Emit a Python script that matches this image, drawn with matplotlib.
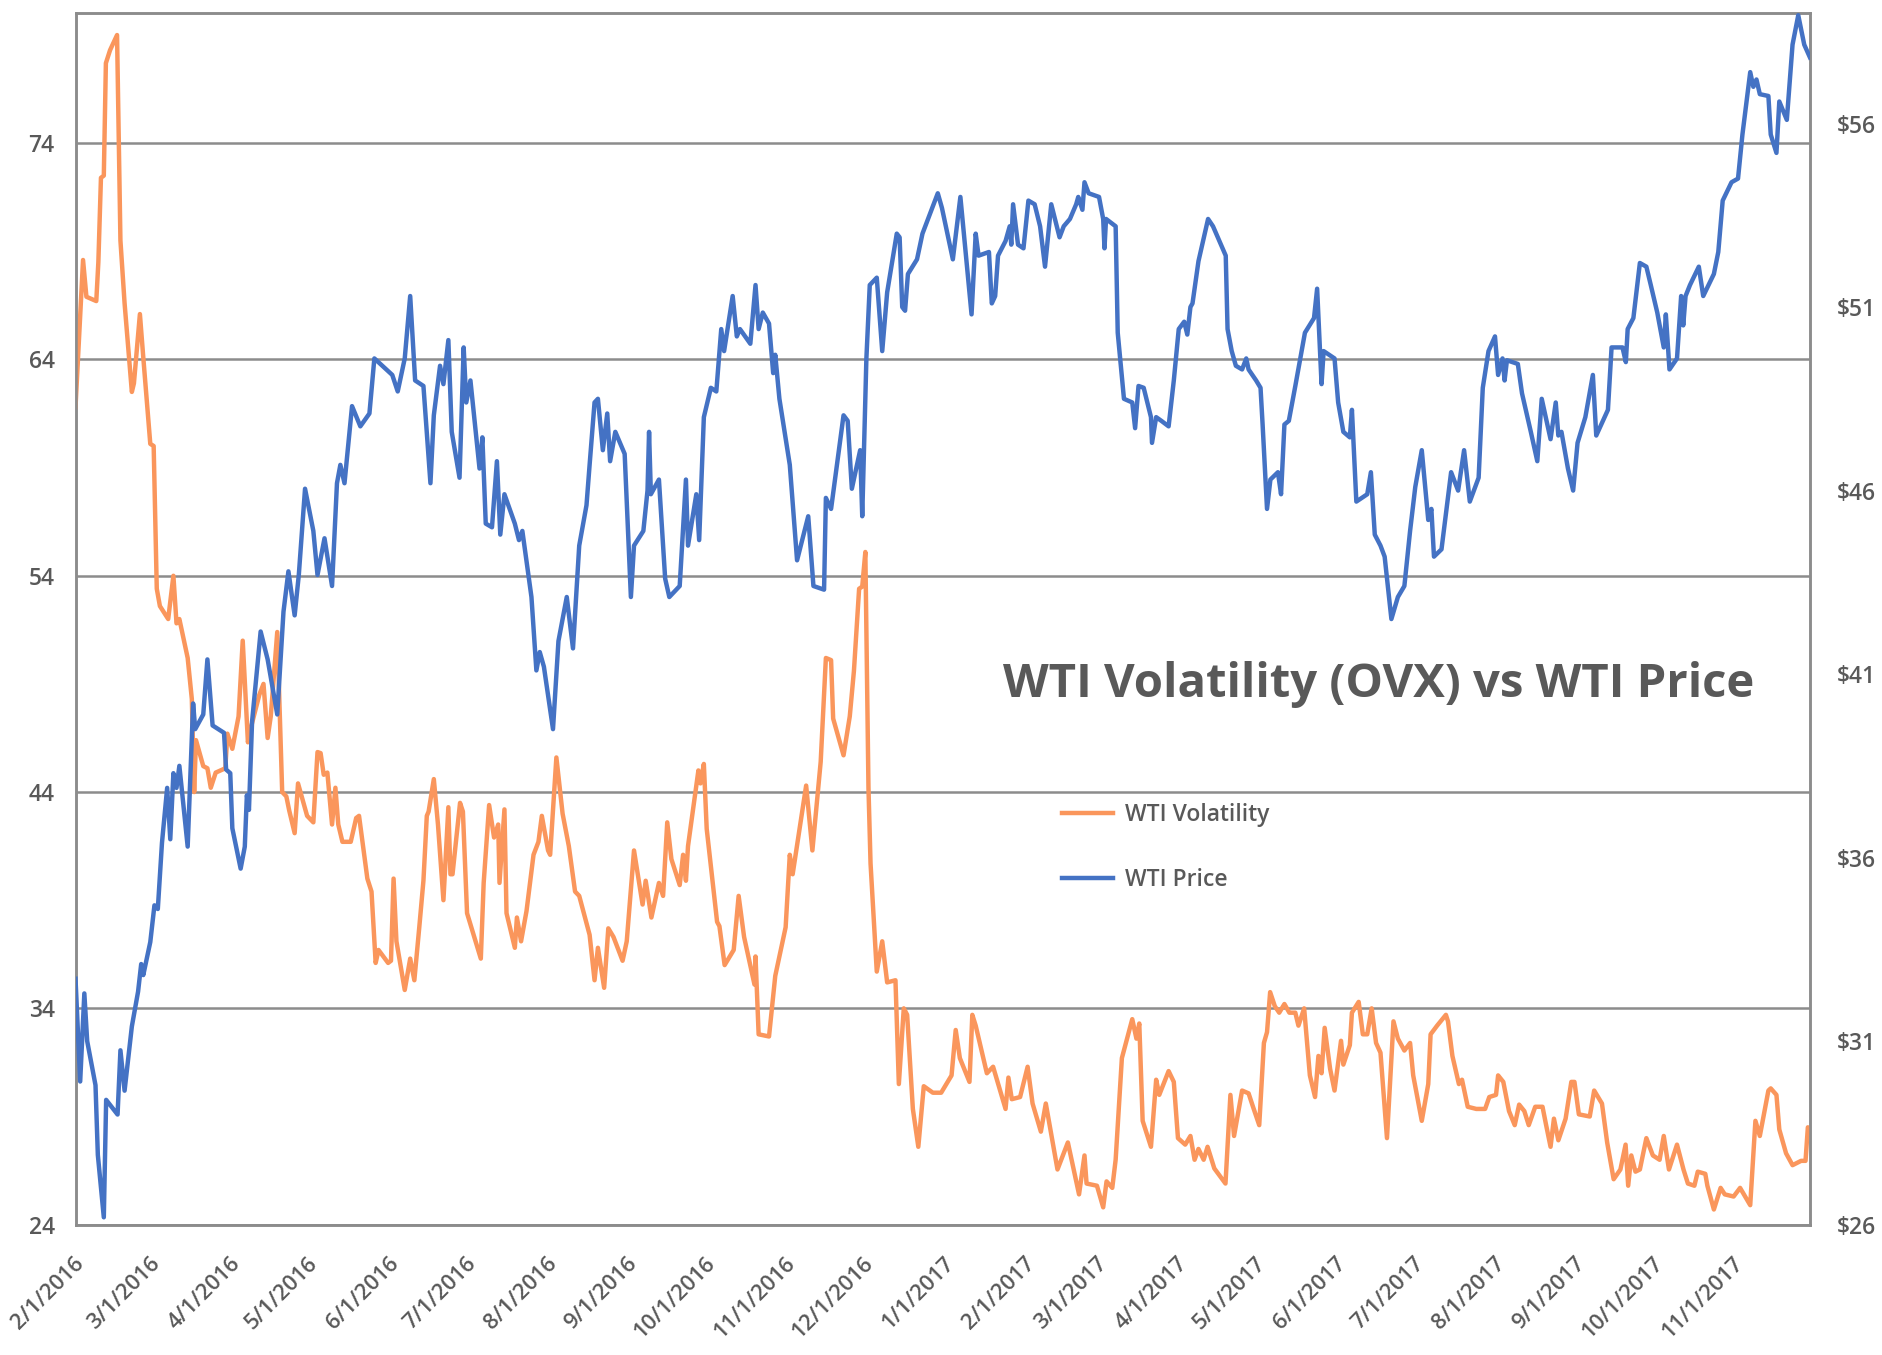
import numpy as np
import pandas as pd
import matplotlib
matplotlib.use("Agg")
import matplotlib.pyplot as plt
import matplotlib.dates as mdates
import matplotlib.transforms as mtransforms
from matplotlib.ticker import FuncFormatter

plt.rcParams["font.family"] = ["Open Sans", "DejaVu Sans"]

START = pd.Timestamp("2016-02-01")
END_DAY = 668

# OVX (WTI volatility), days since 2/1/2016 and index level
ovx_days = [0, 2.9, 4.2, 8.0, 8.8, 9.8, 10.9, 11.7, 13.3, 16.0, 17.3, 18.9, 21.7, 22.5, 24.8, 26.1,
            28.8, 30.1, 31.3, 32.5, 35.7, 37.7, 38.9, 40.0, 43.2, 44.8, 45.7, 46.4, 49.2, 50.8, 52.1,
            54.0, 57.7, 58.5, 60.4, 62.8, 64.4, 66.4, 67.6, 70.8, 72.4, 74.0, 75.2, 77.7, 79.6, 81.2,
            82.3, 84.4, 85.7, 89.2, 91.6, 93.2, 94.4, 95.6, 97.0, 98.8, 100.1, 101.2, 102.8, 106.0,
            108.1, 109.2, 112.4, 114.0, 115.6, 116.7, 120.4, 121.5, 122.5, 123.6, 126.8, 128.9, 130.5,
            132.4, 134.0, 135.3, 136.0, 138.0, 139.6, 141.7, 143.6, 144.4, 145.2, 148.1, 149.2, 150.8,
            156.1, 157.2, 159.3, 161.2, 162.8, 163.3, 165.2, 166.0, 169.2, 170.0, 171.6, 173.7, 176.4,
            178.3, 179.6, 182.0, 182.8, 185.2, 187.6, 190.0, 192.4, 194.0, 198.0, 199.9, 201.2, 203.6,
            205.2, 207.2, 210.7, 212.3, 215.1, 218.4, 219.6, 221.8, 224.7, 226.3, 227.9, 229.5, 232.7,
            234.0, 235.1, 235.9, 239.9, 240.7, 242.0, 243.1, 247.1, 248.0, 250.0, 253.5, 255.4, 257.5,
            261.5, 261.9, 263.1, 267.1, 269.5, 273.5, 275.1, 276.2, 281.4, 283.8, 287.0, 289.0, 291.0,
            291.8, 295.8, 298.2, 299.8, 301.8, 303.0, 304.2, 305.4, 306.2, 308.6, 310.7, 312.6, 315.8,
            317.1, 319.0, 320.3, 322.5, 324.6, 326.7, 330.2, 333.4, 337.4, 339.0, 340.6, 344.3, 345.4,
            346.7, 351.0, 353.4, 358.2, 359.3, 360.6, 363.8, 366.7, 368.6, 371.8, 373.7, 378.2, 382.2,
            386.5, 388.6, 389.4, 393.4, 395.8, 397.1, 399.3, 400.6, 403.0, 407.0, 408.6, 409.7, 411.0,
            414.2, 416.2, 417.4, 421.0, 423.0, 424.6, 427.4, 429.4, 431.0, 432.5, 434.5, 436.0, 438.6,
            442.9, 444.8, 446.2, 449.3, 451.8, 453.5, 455.9, 457.7, 458.9, 460.1, 461.9, 463.6, 465.6,
            467.5, 469.8, 471.0, 473.2, 475.4, 477.4, 478.7, 479.9, 481.1, 483.2, 484.9, 487.4, 488.3,
            490.8, 491.6, 494.2, 495.8, 497.5, 499.2, 500.9, 502.6, 505.1, 507.6, 509.3, 511.8, 514.0,
            515.2, 518.5, 521.0, 521.9, 524.4, 527.8, 528.6, 530.3, 532.8, 534.0, 536.2, 539.5, 542.9,
            544.5, 547.1, 547.9, 549.9, 552.1, 554.3, 556.0, 558.0, 559.7, 562.2, 565.0, 566.4, 568.1,
            569.4, 571.1, 573.9, 576.1, 577.3, 579.0, 583.2, 584.9, 587.9, 589.9, 592.4, 595.0, 597.0,
            598.0, 599.2, 600.8, 602.5, 605.0, 607.5, 610.1, 611.7, 613.7, 616.8, 619.3, 621.0, 623.5,
            624.8, 627.7, 628.5, 631.0, 633.6, 635.2, 638.6, 641.1, 645.0, 647.0, 648.7, 652.0, 652.9,
            655.1, 656.2, 658.8, 661.3, 664.6, 666.3, 667.2, 668.0]
ovx_vals = [61.8, 68.6, 66.9, 66.7, 68.5, 72.4, 72.5, 77.7, 78.3, 79.0, 69.5, 66.6, 62.5, 62.9, 66.1, 64.1,
            60.1, 60.0, 53.4, 52.6, 52.0, 54.0, 51.8, 52.0, 50.2, 48.3, 44.0, 46.4, 45.2, 45.1, 44.2,
            44.9, 45.1, 46.7, 46.0, 47.5, 51.0, 46.3, 47.0, 48.5, 49.0, 46.5, 47.5, 51.4, 44.0, 43.8,
            43.15, 42.1, 44.4, 42.9, 42.6, 45.85, 45.8, 44.8, 44.9, 42.5, 44.2, 42.5, 41.7, 41.7,
            42.8, 42.9, 40.0, 39.4, 36.1, 36.7, 36.1, 36.2, 40.0, 37.1, 34.85, 36.3, 35.3,
            37.75, 39.9, 42.9, 43.1, 44.6, 42.5, 39.0, 43.3, 40.2, 40.2, 43.5, 43.1, 38.4,
            36.3, 39.8, 43.4, 41.9, 42.5, 39.8, 43.2, 38.4, 36.8, 38.2, 37.1, 38.5, 41.1,
            41.7, 42.9, 41.3, 41.1, 45.6, 43.0, 41.5, 39.4, 39.2, 37.4, 35.3, 36.8, 34.95,
            37.7, 37.3, 36.2, 37.1, 41.3, 38.8, 39.9, 38.2, 39.8, 39.2, 42.6, 40.9, 39.7,
            41.1, 39.9, 41.5, 45.0, 44.4, 45.3, 42.3, 38.0, 37.8, 36.0, 36.7, 39.2, 37.3,
            35.1, 36.4, 32.8, 32.7, 35.5, 37.75, 41.1, 40.2, 44.3, 41.3, 45.4, 50.2, 50.1,
            47.4, 45.7, 47.5, 49.6, 53.4, 53.5, 55.1, 44.2, 40.7, 35.7, 37.1, 35.2, 35.3,
            30.5, 34.0, 33.7, 29.35, 27.6, 30.4, 30.1, 30.1, 30.9, 33.0, 31.7, 30.6, 33.7,
            33.2, 31.0, 31.3, 29.35, 30.8, 29.8, 29.9, 31.3, 29.6, 28.3, 29.6, 26.55, 27.8,
            25.4, 27.2, 25.9, 25.8, 24.8, 26.0, 25.7, 27.0, 31.7, 33.5, 32.6, 33.3, 28.8,
            27.6, 30.7, 30.0, 31.1, 30.6, 28.0, 27.7, 28.1, 27.0, 27.5, 27.0, 27.6, 26.6,
            25.9, 30.0, 28.1, 30.2, 30.07, 29.45, 28.6, 32.4, 32.9, 34.75, 34.1, 33.8, 34.2,
            33.8, 33.8, 33.2, 34.0, 30.9, 29.9, 31.8, 31.0, 33.1, 31.2, 30.2, 32.5, 31.4,
            32.3, 33.8, 34.3, 32.8, 32.8, 34.0, 32.4, 31.95, 28.0, 33.4, 32.6, 32.05, 32.4,
            30.9, 28.8, 30.5, 32.8, 33.2, 33.7, 33.4, 31.8, 30.5, 30.7, 29.45, 29.35, 29.35,
            29.9, 30.0, 30.9, 30.6, 29.25, 28.6, 29.55, 29.25, 28.6, 29.45, 29.45, 28.6, 27.6,
            28.9, 27.9, 28.9, 30.6, 30.6, 29.1, 29.0, 30.2, 29.6, 27.8, 26.1, 26.55, 27.7,
            25.8, 27.2, 26.45, 26.55, 28.0, 27.2, 27.0, 28.1, 26.55, 27.7, 26.55, 25.9, 25.8,
            26.45, 26.35, 25.8, 24.7, 25.7, 25.4, 25.3, 25.7, 24.9, 28.8, 28.1, 30.2, 30.3,
            30.0, 28.4, 27.3, 26.75, 26.95, 26.95, 28.5, 28.3]

# WTI price ($/bbl), days since 2/1/2016
wti_days = [0, 1.8, 3.4, 4.5, 7.7, 8.6, 10.9, 11.8, 16.2, 17.3, 18.9, 21.7, 24.1, 25.3, 26.1, 28.8,
            30.4, 31.7, 33.3, 35.3, 36.5, 37.7, 38.9, 40.0, 43.2, 45.3, 46.1, 49.2, 50.8, 52.8, 57.2,
            58.0, 59.6, 60.4, 63.6, 65.2, 66.0, 66.8, 68.0, 71.3, 74.0, 77.7, 80.1, 82.0, 84.4, 86.0,
            88.4, 91.6, 93.2, 95.9, 98.8, 100.7, 102.0, 103.6, 106.5, 109.7, 113.2, 115.1, 122.0,
            124.1, 126.8, 128.9, 130.8, 134.0, 136.7, 138.0, 140.4, 141.7, 143.6, 144.9, 147.9, 149.5,
            150.5, 152.1, 155.6, 156.7, 158.0, 160.4, 162.3, 163.6, 165.2, 169.2, 170.8, 172.1, 175.6,
            177.5, 178.8, 180.4, 183.9, 186.0, 189.2, 191.6, 194.0, 196.8, 198.0, 199.9, 201.2, 203.1,
            204.8, 205.9, 207.9, 211.5, 213.9, 215.1, 218.7, 220.3, 220.9, 221.6, 224.7, 227.1, 228.7,
            232.7, 235.1, 235.9, 239.1, 240.2, 242.0, 244.7, 246.8, 248.7, 249.8, 253.1, 254.7, 255.9,
            259.9, 261.9, 263.1, 264.7, 267.1, 268.7, 269.5, 271.1, 275.1, 277.9, 282.2, 284.2, 288.3,
            289.0, 291.0, 295.8, 297.4, 299.0, 302.2, 303.0, 304.6, 305.9, 308.6, 310.7, 312.6, 316.3,
            317.4, 318.4, 319.5, 320.6, 324.1, 326.2, 332.1, 333.7, 337.9, 340.8, 345.1, 346.7, 347.8,
            351.8, 352.9, 354.2, 355.3, 358.2, 359.8, 360.4, 361.1, 363.0, 365.1, 367.0, 369.4, 371.5,
            373.4, 375.8, 379.0, 380.6, 383.0, 385.4, 386.2, 387.8, 388.6, 390.2, 394.2, 395.8, 396.3,
            396.9, 400.6, 401.4, 403.8, 407.0, 408.1, 409.4, 411.4, 414.2, 414.6, 416.2, 418.2, 421.0,
            423.0, 424.9, 427.0, 428.2, 429.4, 430.2, 432.5, 436.2, 438.1, 443.0, 443.7, 445.3, 446.9,
            449.3, 450.9, 451.8, 454.7, 456.4, 457.2, 458.9, 460.2, 463.1, 464.3, 465.6, 467.3, 469.8,
            473.5, 477.0, 478.2, 479.9, 480.7, 484.9, 486.3, 488.3, 490.8, 491.6, 493.3, 497.5, 498.9,
            500.4, 502.6, 504.2, 506.8, 509.3, 511.8, 514.0, 516.0, 518.5, 521.0, 522.2, 523.2, 526.1,
            529.8, 532.5, 534.8, 537.0, 540.4, 542.0, 544.2, 546.7, 547.9, 549.6, 550.4, 551.3, 555.5,
            557.1, 560.5, 563.0, 564.7, 568.1, 570.1, 571.1, 572.3, 574.8, 576.8, 578.5, 581.5, 584.4,
            585.7, 590.2, 591.6, 595.8, 597.1, 597.8, 600.0, 602.5, 605.0, 606.7, 609.2, 611.7, 612.5,
            613.9, 616.8, 618.4, 619.2, 620.1, 621.8, 625.2, 626.9, 631.0, 632.7, 634.4, 637.8, 640.3,
            642.0, 645.0, 646.2, 647.4, 648.7, 652.0, 652.9, 655.1, 656.2, 659.1, 661.3, 663.5, 665.8,
            668.0]
wti_vals = [32.7, 29.9, 32.3, 31.0, 29.8, 27.9, 26.2, 29.4, 29.0, 30.75, 29.65, 31.4, 32.35, 33.1, 32.8, 33.7,
            34.7, 34.6, 36.4, 37.9, 36.5, 38.3, 37.9, 38.5, 36.3, 40.2, 39.5, 39.9, 41.4, 39.6, 39.4,
            38.4, 38.3, 36.8, 35.7, 36.3, 37.7, 37.3, 39.7, 42.16, 41.4, 39.9, 42.7, 43.8, 42.6, 43.7,
            46.05, 44.9, 43.7, 44.7, 43.4, 46.2, 46.7, 46.2, 48.3, 47.75, 48.1, 49.6, 49.15,
            48.7, 49.6, 51.3, 49.0, 48.85, 46.2, 48.05, 49.4, 48.9, 50.1, 47.6, 46.35, 49.9,
            48.4, 49.0, 46.6, 47.45, 45.1, 45.0, 46.8, 44.8, 45.9, 45.1, 44.65, 44.9, 43.1,
            41.1, 41.6, 41.2, 39.5, 41.9, 43.1, 41.7, 44.5, 45.6, 46.7, 48.4, 48.5, 47.1,
            48.1, 46.8, 47.6, 47.0, 43.1, 44.5, 44.9, 46.0, 47.6, 45.9, 46.3, 43.6, 43.1,
            43.4, 46.3, 44.5, 45.9, 44.65, 48.0, 48.8, 48.7, 50.4, 49.8, 51.3, 50.2, 50.4,
            50.0, 51.6, 50.4, 50.85, 50.55, 49.2, 49.7, 48.5, 46.7, 44.1, 45.3, 43.4, 43.3,
            45.8, 45.5, 48.05, 47.9, 46.05, 47.1, 45.3, 49.6, 51.6, 51.8, 49.8, 51.4, 53.0,
            52.9, 51.0, 50.9, 51.9, 52.3, 53.0, 54.1, 53.7, 52.3, 54.0, 50.8, 53.0, 52.4,
            52.5, 51.1, 51.3, 52.4, 52.8, 53.2, 52.7, 53.8, 52.7, 52.6, 53.9, 53.8, 53.2,
            52.1, 53.8, 52.9, 53.2, 53.4, 53.8, 54.0, 53.65, 54.4, 54.1, 54.0, 53.4, 52.6,
            53.4, 53.2, 50.3, 48.5, 48.4, 47.7, 48.85, 48.8, 48.0, 47.3, 48.0, 47.9, 47.75,
            49.0, 50.4, 50.6, 50.25, 51.0, 51.1, 52.25, 53.4, 53.2, 52.4, 50.4, 49.8, 49.4,
            49.3, 49.6, 49.3, 49.0, 48.8, 47.8, 45.5, 46.3, 46.5, 45.9, 47.8, 47.9, 48.85,
            50.3, 50.7, 51.5, 48.9, 49.8, 49.6, 48.4, 47.6, 47.45, 48.2, 45.7, 45.9, 46.5,
            44.8, 44.5, 44.2, 42.5, 43.1, 43.4, 44.9, 46.1, 47.1, 45.2, 45.5, 44.2, 44.4,
            46.5, 46.0, 47.1, 45.7, 46.35, 48.8, 49.8, 50.2, 49.15, 49.6, 49.0, 49.55, 49.45,
            48.65, 47.6, 46.8, 48.5, 47.4, 48.4, 47.5, 47.6, 46.6, 46.0, 47.3, 48.0, 49.15,
            47.5, 48.2, 49.9, 49.9, 49.5, 50.4, 50.7, 52.2, 52.1, 51.6, 50.85, 49.9, 50.8,
            49.3, 49.6, 51.3, 50.5, 51.3, 51.6, 52.1, 51.3, 51.9, 52.5, 53.9, 54.4, 54.5,
            55.7, 57.4, 57.0, 57.2, 56.8, 56.75, 55.7, 55.2, 56.6, 56.1, 58.15, 58.95, 58.15,
            57.8]

ovx_ticks = [24, 34, 44, 54, 64, 74]
wti_ticks = [26, 31, 36, 41, 46, 51, 56]

TEXT = "#595959"
GRID = "#8c8c8c"

ovx_dates = START + pd.to_timedelta(ovx_days, unit="D")
wti_dates = START + pd.to_timedelta(wti_days, unit="D")

fig = plt.figure(figsize=(18.83, 13.55), dpi=100)
ax = fig.add_axes([0.0401, 0.0962, 0.9211, 0.8939])

ax.plot(ovx_dates, ovx_vals, color="#FA965C", lw=3.2, label="WTI Volatility", zorder=3)
ax.set_ylim(24, 80)
ax.set_yticks(ovx_ticks)
ax.set_xlim(START, START + pd.Timedelta(days=END_DAY))
ax.grid(axis="y", color=GRID, lw=1.8)
ax.set_axisbelow(True)

ax.xaxis.set_major_locator(mdates.MonthLocator(bymonthday=1))
ax.xaxis.set_major_formatter(FuncFormatter(
    lambda v, pos: "{d.month}/{d.day}/{d.year}".format(d=mdates.num2date(v))))

ax2 = ax.twinx()
ax2.plot(wti_dates, wti_vals, color="#4472C4", lw=3.2, label="WTI Price", zorder=3)
ax2.set_ylim(26, 59)
ax2.set_yticks(wti_ticks)
ax2.yaxis.set_major_formatter(FuncFormatter(lambda v, pos: "${:.0f}".format(v)))

for a in (ax, ax2):
    for s in a.spines.values():
        s.set_color(GRID)
        s.set_linewidth(1.8)

FS = 16.5
ax.tick_params(axis="y", length=0, pad=15, labelsize=FS, labelcolor=TEXT)
ax2.tick_params(axis="y", length=0, pad=19, labelsize=FS, labelcolor=TEXT)
ax.tick_params(axis="x", length=0, pad=26, labelsize=15.8, labelcolor=TEXT)
shift = mtransforms.ScaledTranslation(4 / 72, 0, fig.dpi_scale_trans)
for lab in ax.get_xticklabels():
    lab.set_rotation(45)
    lab.set_ha("right")
    lab.set_va("center")
    lab.set_rotation_mode("anchor")
    lab.set_transform(lab.get_transform() + shift)
for lab in ax.get_xticklabels() + ax.get_yticklabels() + ax2.get_yticklabels():
    lab.set_fontweight("semibold")

ax.text(0.7515, 0.446, "WTI Volatility (OVX) vs WTI Price", transform=ax.transAxes,
        ha="center", va="center", fontsize=34, fontweight="bold", color=TEXT)

h1, l1 = ax.get_legend_handles_labels()
h2, l2 = ax2.get_legend_handles_labels()
leg = ax2.legend(h1 + h2, l1 + l2, loc="upper left", bbox_to_anchor=(0.5686, 0.348),
                 frameon=False, fontsize=FS, labelspacing=1.8, handlelength=2.25,
                 handletextpad=0.5, borderpad=0, borderaxespad=0)
for t in leg.get_texts():
    t.set_color(TEXT)
    t.set_fontweight("semibold")

fig.savefig("out.png", dpi=100)
